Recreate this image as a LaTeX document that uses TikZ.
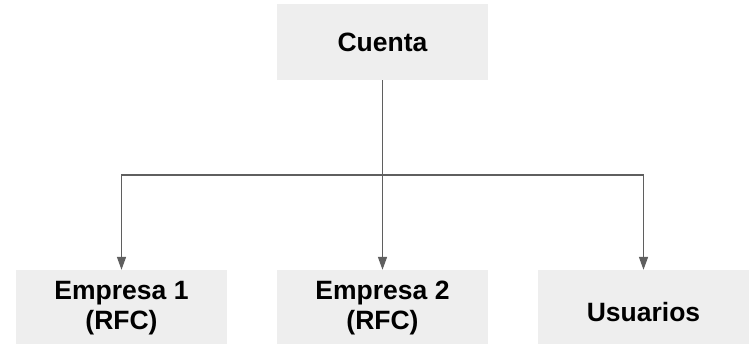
\documentclass[tikz,border=0pt]{standalone}
\usepackage{fontspec}
\setmainfont{Liberation Sans}
\usetikzlibrary{arrows.meta}
\definecolor{boxfill}{HTML}{EEEEEE}
\definecolor{linegray}{HTML}{5F5F5F}
\begin{document}
\begin{tikzpicture}[x=1pt,y=-1pt,
  box/.style={fill=boxfill, draw=none, inner sep=0pt, align=center,
    font=\fontsize{26.5}{30}\selectfont\bfseries, text=black},
  conn/.style={draw=linegray, line width=1.5pt},
  arr/.style={conn, -{Triangle[length=13pt,width=9pt]}}]
\useasboundingbox (0,0) rectangle (750,344);
\node[box, minimum width=211pt, minimum height=76pt] (cuenta) at (382.5,42) {Cuenta};
\node[box, minimum width=211pt, minimum height=76pt] (e1) at (121.5,308) {Empresa 1\\(RFC)};
\node[box, minimum width=211pt, minimum height=76pt] (e2) at (382.5,308) {Empresa 2\\(RFC)};
\node[box, minimum width=211pt, minimum height=84pt] (us) at (643.5,312) {Usuarios};
\coordinate (j) at (382.5,175);
\draw[conn] (cuenta.south) -- (j);
\draw[arr] (j) -- (e2.north);
\draw[arr] (j) -| (e1.north);
\draw[arr] (j) -| (us.north);
\end{tikzpicture}
\end{document}
